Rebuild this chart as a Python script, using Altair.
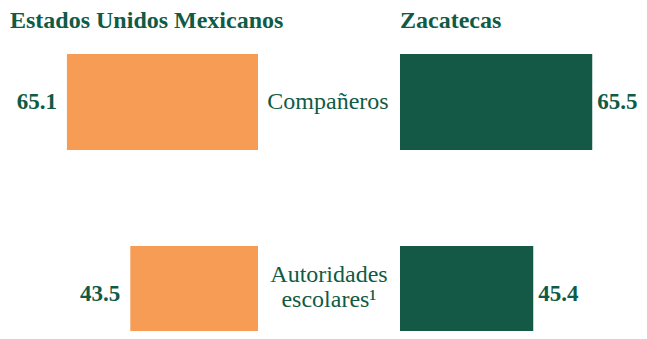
import altair as alt
import pandas as pd

# ---- data ----
categories = ["Compañeros", "Autoridades escolares¹"]
cat_labels = ["Compañeros", "Autoridades\nescolares¹"]
mexico = [65.1, 43.5]
zacatecas = [65.5, 45.4]
titles = ["Estados Unidos Mexicanos", "Zacatecas"]

df = pd.DataFrame({"cat": categories, "label": cat_labels, "mx": mexico, "zac": zacatecas})

FONT = "Liberation Serif"
ORANGE = "#F79C55"
GREEN = "#145846"
TEXT = "#0F5B45"
H = 291
WL, WM, WR = 250, 142, 239
PX_PER_UNIT = 2.935

yenc = alt.Y("cat:N", sort=categories, axis=None,
             scale=alt.Scale(domain=categories, paddingInner=0.5, paddingOuter=0,
                             range=[14, 302]))

base = alt.Chart(df)

# ---- left panel (Mexico) + centre labels ----
xl = alt.X("mx:Q", scale=alt.Scale(domain=[0, WL / PX_PER_UNIT], reverse=True), axis=None)
left_bars = base.mark_bar(color=ORANGE, clip=True).encode(x=xl, y=yenc)
left_text = base.mark_text(align="right", baseline="middle", dx=-10, font=FONT, fontSize=23,
                           fontWeight="bold", color=TEXT).encode(
    x=xl, y=yenc, text=alt.Text("mx:Q", format=".1f"))
left_title = alt.Chart(pd.DataFrame({"t": [titles[0]]})).mark_text(
    align="left", baseline="alphabetic", font=FONT, fontSize=24, fontWeight="bold", color=TEXT
).encode(x=alt.value(2), y=alt.value(-12), text="t:N")
mid1 = base.transform_filter(alt.datum.cat == categories[0]).mark_text(
    align="center", baseline="middle", font=FONT, fontSize=24, color=TEXT
).encode(x=alt.value(WL + WM / 2 - 1), y=yenc, text="label:N")
mid2 = base.transform_filter(alt.datum.cat == categories[1]).mark_text(
    align="center", baseline="middle", font=FONT, fontSize=24, color=TEXT,
    lineBreak="\n", lineHeight=25, dy=-19
).encode(x=alt.value(WL + WM / 2), y=yenc, text="label:N")
left = alt.layer(left_bars, left_text, left_title, mid1, mid2).properties(width=WL, height=H)

# ---- right panel (Zacatecas) ----
xr = alt.X("zac:Q", scale=alt.Scale(domain=[0, WR / PX_PER_UNIT]), axis=None)
right_bars = base.mark_bar(color=GREEN, clip=True).encode(x=xr, y=yenc)
right_text = base.mark_text(align="left", baseline="middle", dx=5, font=FONT, fontSize=23,
                            fontWeight="bold", color=TEXT).encode(
    x=xr, y=yenc, text=alt.Text("zac:Q", format=".1f"))
right_title = alt.Chart(pd.DataFrame({"t": [titles[1]]})).mark_text(
    align="left", baseline="alphabetic", font=FONT, fontSize=24, fontWeight="bold", color=TEXT
).encode(x=alt.value(0), y=alt.value(-12), text="t:N")
right = alt.layer(right_bars, right_text, right_title).properties(width=WR, height=H)

chart = alt.hconcat(left, right, spacing=WM, bounds="flush").properties(
    padding={"left": 0, "top": 1, "right": 0, "bottom": 0},
).configure_view(stroke=None)

chart.save("out.html", embed_options={"renderer": "svg", "actions": False})
